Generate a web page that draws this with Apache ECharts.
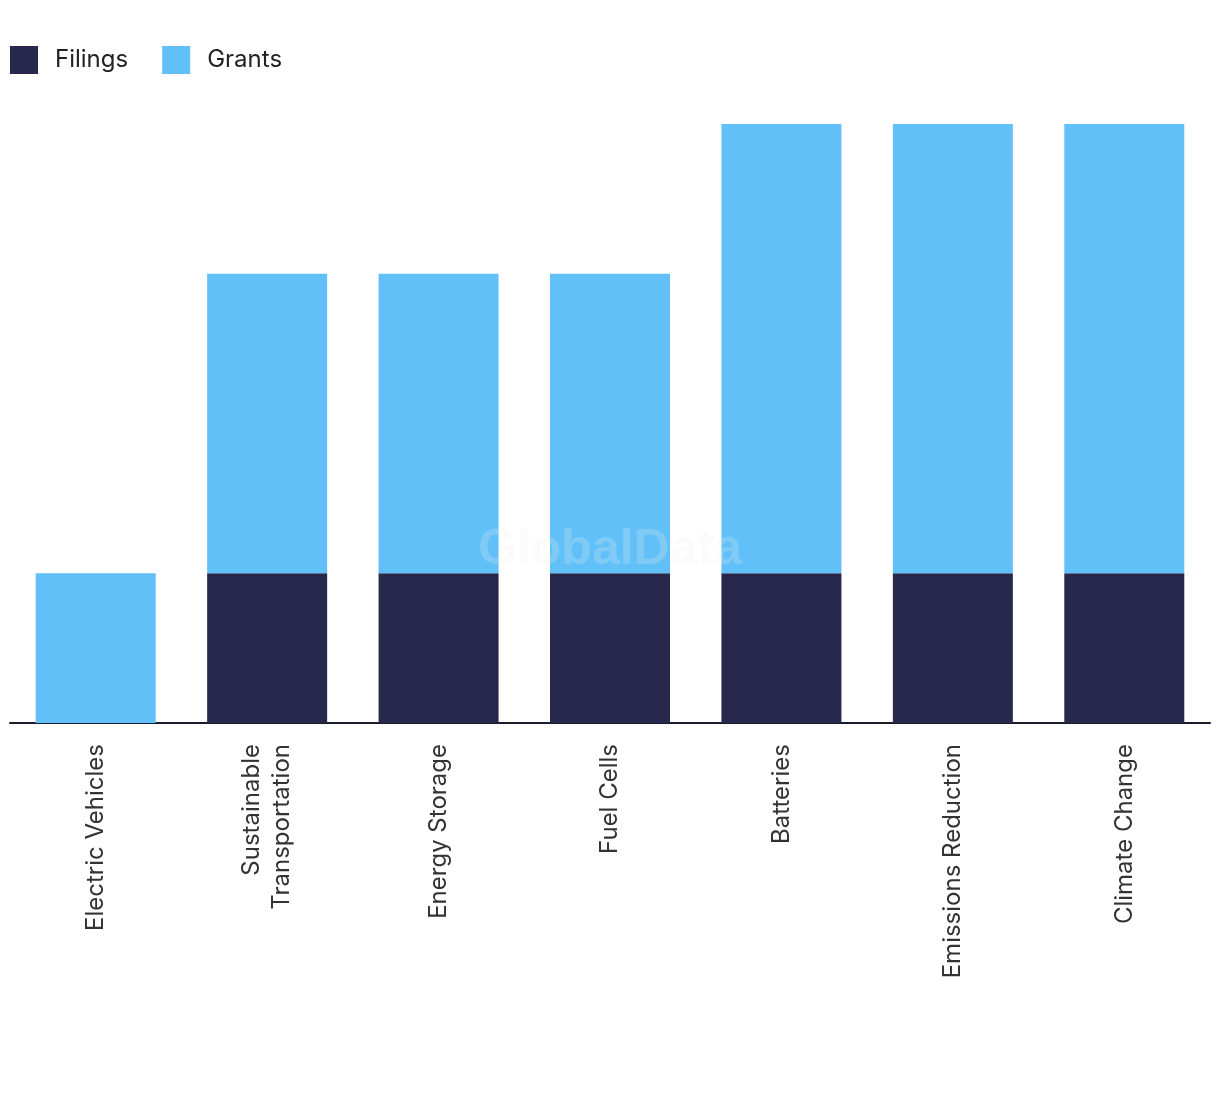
<!DOCTYPE html>
<html><head><meta charset="utf-8">
<script src="https://cdn.jsdelivr.net/npm/echarts@6/dist/echarts.min.js"></script>
<style>html,body{margin:0;padding:0;background:#fff}#c{width:1220px;height:1094px}</style>
</head><body><div id="c"></div>
<script>
const categories = ['Electric Vehicles','Sustainable\nTransportation','Energy Storage','Fuel Cells','Batteries','Emissions Reduction','Climate Change'];
const filings = [0,1,1,1,1,1,1];
const grants = [1,2,2,2,3,3,3];
const FONT = 'Inter, "Noto Sans", sans-serif';
const chart = echarts.init(document.getElementById('c'));
chart.setOption({
  animation:false,
  backgroundColor:'#fff',
  legend:{left:5, top:41, itemWidth:28, itemHeight:28, itemGap:34, icon:'rect',
    textStyle:{fontFamily:FONT, fontSize:24, color:'#222', padding:[0,0,0,12]},
    data:['Filings','Grants']},
  grid:{left:10, right:10, top:124, bottom:371},
  xAxis:{type:'category', data:categories,
    axisLine:{lineStyle:{color:'#1b1b2f', width:2}},
    axisTick:{show:false},
    axisLabel:{rotate:90, margin:21, fontFamily:FONT, fontSize:24, color:'#333', lineHeight:30, interval:0}},
  yAxis:{type:'value', min:0, max:4, show:false, splitLine:{show:false}},
  graphic:[{type:'text', left:'center', top:525, z:100,
    style:{text:'GlobalData', font:'bold 50px "Liberation Sans", Arial, sans-serif', fill:'rgba(235,235,240,0.22)'}}],
  series:[
    {name:'Filings', type:'bar', stack:'a', data:filings, barWidth:'70%', itemStyle:{color:'#28284c'}},
    {name:'Grants', type:'bar', stack:'a', data:grants, barWidth:'70%', itemStyle:{color:'#62c0f8'}}
  ]
});
</script></body></html>
